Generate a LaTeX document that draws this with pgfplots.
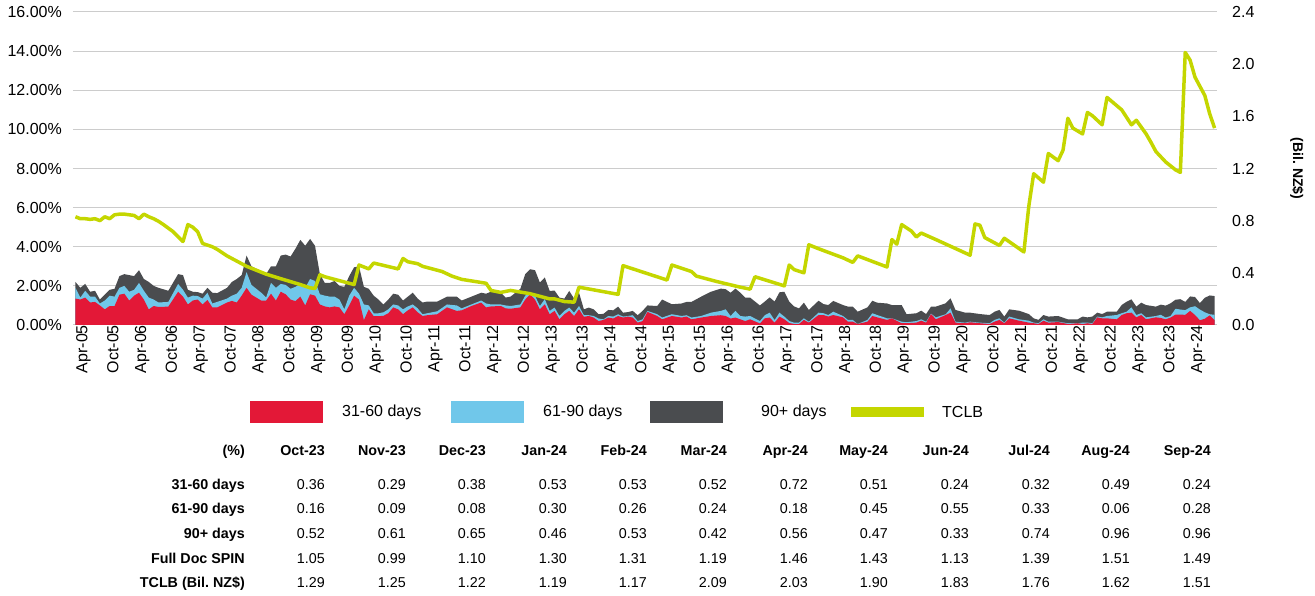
\documentclass[border=0pt]{standalone}
\usepackage{fontspec}
\setmainfont{Liberation Sans}
\usepackage{pgfplots}
\pgfplotsset{compat=1.18}
\usepackage{pgfplotstable}
\definecolor{cred}{RGB}{227,24,55}
\definecolor{cblue}{RGB}{112,199,234}
\definecolor{cgrey}{RGB}{74,76,79}
\definecolor{cgreen}{RGB}{196,214,0}
\definecolor{gridc}{RGB}{204,204,204}

\pgfplotstableread{
m r b t
0 1.35 1.90 2.20
1 1.30 1.40 1.90
2 1.40 1.75 2.10
3 1.15 1.45 1.70
4 1.18 1.45 1.75
5 1.00 1.10 1.30
6 0.80 1.25 1.55
7 0.97 1.50 1.80
8 0.97 1.45 1.85
9 1.55 1.90 2.50
10 1.60 2.00 2.60
11 1.25 1.70 2.55
12 1.50 1.80 2.50
13 1.65 2.15 2.80
14 1.30 1.75 2.35
15 0.80 1.40 2.20
16 0.97 1.30 2.00
17 0.92 1.15 1.90
19 0.94 1.18 1.75
21 1.70 2.10 2.60
22 1.45 1.80 2.55
23 1.05 1.40 1.80
24 1.25 1.50 1.70
25 1.30 1.48 1.68
26 1.05 1.35 1.60
27 1.28 1.65 1.90
28 0.90 1.10 1.65
29 0.90 1.18 1.63
31 1.15 1.35 1.90
32 1.23 1.50 2.20
33 1.15 1.60 2.35
34 1.50 1.90 2.55
35 1.90 2.70 3.55
36 1.55 2.05 3.00
38 1.25 1.65 2.75
39 1.25 1.40 2.60
40 1.60 2.15 3.00
41 1.25 1.90 3.00
42 1.70 2.10 3.55
43 1.57 2.05 3.60
44 1.30 1.85 3.50
45 1.22 1.95 3.90
46 1.45 2.10 4.35
47 1.00 1.90 4.05
48 1.57 2.35 4.40
49 1.50 2.25 4.05
50 1.05 1.57 2.60
51 0.95 1.50 2.15
52 0.90 1.45 2.15
53 0.95 1.45 2.25
54 0.90 1.30 2.00
55 0.55 0.80 1.95
56 1.00 1.50 2.50
57 1.50 1.90 2.95
58 1.30 1.60 3.00
59 0.25 1.05 1.95
60 0.80 1.00 1.85
61 0.45 0.60 1.50
62 0.45 0.60 1.30
63 0.47 0.65 1.05
64 0.60 0.80 1.30
65 0.90 1.05 1.60
66 0.80 1.00 1.55
67 0.55 0.80 1.25
68 0.75 0.95 1.45
69 0.90 1.05 1.65
70 0.65 0.85 1.35
71 0.46 0.55 1.15
72 0.50 0.60 1.20
74 0.55 0.70 1.20
76 0.90 1.05 1.45
78 0.72 1.00 1.45
79 0.75 0.85 1.25
81 0.97 1.05 1.45
83 1.15 1.25 1.65
84 0.90 1.10 1.60
85 0.95 1.05 1.70
87 0.97 1.05 1.65
88 0.85 1.00 1.40
89 0.83 0.97 1.45
91 0.90 1.05 1.85
92 1.30 1.50 2.60
93 1.57 1.65 2.85
94 1.30 1.49 2.80
95 0.80 0.97 2.17
96 1.06 1.32 2.43
97 0.55 0.72 1.74
98 0.72 0.89 1.76
99 0.29 0.46 1.40
100 0.55 0.72 1.35
101 0.72 0.89 1.74
102 0.46 0.63 1.35
103 0.80 0.97 1.65
104 0.42 0.50 0.80
105 0.46 0.50 0.89
106 0.38 0.46 0.80
107 0.20 0.33 0.55
108 0.26 0.29 0.57
109 0.38 0.46 0.77
110 0.33 0.43 0.75
111 0.46 0.55 0.94
112 0.38 0.43 0.63
113 0.43 0.46 0.66
114 0.38 0.50 0.72
115 0.12 0.20 0.50
116 0.20 0.29 0.72
117 0.67 0.72 1.00
119 0.46 0.55 0.97
120 0.29 0.38 1.30
122 0.46 0.55 1.06
124 0.38 0.46 1.10
125 0.43 0.50 1.18
126 0.29 0.38 1.18
128 0.38 0.46 1.45
130 0.46 0.63 1.70
132 0.50 0.72 1.86
133 0.46 0.80 1.83
134 0.33 0.46 1.65
135 0.38 0.72 1.86
136 0.29 0.46 1.65
137 0.20 0.43 1.40
138 0.29 0.46 1.40
140 0.08 0.20 1.00
141 0.34 0.50 1.20
142 0.38 0.63 1.41
143 0.12 0.25 1.20
144 0.43 0.63 1.67
145 0.29 0.43 1.70
146 0.10 0.20 1.20
147 0.05 0.12 0.95
148 0.05 0.12 0.85
149 0.26 0.34 1.14
150 0.12 0.17 0.77
152 0.51 0.63 1.24
153 0.51 0.60 1.07
154 0.43 0.51 1.02
155 0.51 0.68 1.23
157 0.39 0.46 1.02
158 0.17 0.26 0.94
159 0.17 0.26 0.94
160 0.05 0.05 0.68
162 0.17 0.26 0.90
163 0.46 0.60 1.24
164 0.39 0.51 1.14
166 0.26 0.34 1.10
167 0.34 0.34 1.02
169 0.09 0.17 1.02
170 0.09 0.14 0.55
172 0.12 0.20 0.60
173 0.22 0.29 0.73
174 0.12 0.17 0.56
175 0.56 0.58 0.94
176 0.29 0.39 0.94
178 0.51 0.55 1.11
179 0.63 0.85 1.36
180 0.12 0.17 0.77
182 0.09 0.12 0.63
183 0.14 0.17 0.63
185 0.09 0.12 0.56
187 0.05 0.09 0.51
188 0.17 0.26 0.68
189 0.26 0.34 0.77
190 0.09 0.12 0.43
191 0.34 0.43 0.80
193 0.22 0.29 0.73
195 0.12 0.22 0.56
196 0.09 0.12 0.34
197 0.05 0.09 0.26
198 0.22 0.29 0.51
199 0.12 0.17 0.43
201 0.15 0.17 0.46
203 0.05 0.09 0.29
205 0.09 0.09 0.29
206 0.05 0.12 0.43
207 0.09 0.12 0.39
208 0.05 0.09 0.43
209 0.39 0.43 0.63
210 0.34 0.39 0.56
211 0.34 0.46 0.68
213 0.29 0.51 0.68
214 0.51 0.60 1.02
215 0.60 0.68 1.19
216 0.63 0.90 1.31
217 0.39 0.51 0.94
218 0.51 0.60 1.14
219 0.29 0.39 1.02
221 0.39 0.46 0.94
222 0.36 0.52 1.04
223 0.29 0.38 0.99
224 0.38 0.46 1.11
225 0.53 0.83 1.29
226 0.53 0.79 1.32
227 0.52 0.76 1.18
228 0.72 0.90 1.46
229 0.51 0.96 1.43
230 0.24 0.79 1.12
231 0.32 0.65 1.39
232 0.49 0.55 1.51
233 0.24 0.52 1.48
}\arrears

\pgfplotstableread{
m v
0 0.83
1 0.815
2 0.815
3 0.81
4 0.815
5 0.80
6 0.83
7 0.815
8 0.845
9 0.85
10 0.85
11 0.845
12 0.84
13 0.815
14 0.85
15 0.83
16 0.815
17 0.795
18 0.77
20 0.715
22 0.64
23 0.77
24 0.75
25 0.715
26 0.625
28 0.60
29 0.58
31 0.53
33 0.49
35 0.45
37 0.42
39 0.39
42 0.355
46 0.31
48 0.285
49 0.28
50 0.385
51 0.37
53 0.35
57 0.31
58 0.46
60 0.43
61 0.475
66 0.43
67 0.51
68 0.485
70 0.47
71 0.45
75 0.41
77 0.375
79 0.35
84 0.32
85 0.265
87 0.25
89 0.265
93 0.24
95 0.22
97 0.20
98 0.20
100 0.18
102 0.175
103 0.29
111 0.235
112 0.455
121 0.345
122 0.46
126 0.41
127 0.375
131 0.335
136 0.29
138 0.275
139 0.37
145 0.30
146 0.46
147 0.425
149 0.40
150 0.615
152 0.585
157 0.515
159 0.48
160 0.53
166 0.445
167 0.655
168 0.62
169 0.77
171 0.72
172 0.675
173 0.705
176 0.655
183 0.535
184 0.775
185 0.765
186 0.67
189 0.61
190 0.665
194 0.56
195 0.91
196 1.16
198 1.095
199 1.315
201 1.26
202 1.34
203 1.585
204 1.51
206 1.465
207 1.63
208 1.605
210 1.535
211 1.745
214 1.65
216 1.535
217 1.57
219 1.465
220 1.40
221 1.33
222 1.29
223 1.25
224 1.22
225 1.19
226 1.17
227 2.09
228 2.03
229 1.90
230 1.83
231 1.76
232 1.62
233 1.51
}\tclb

\begin{document}
\begin{tikzpicture}[x=1pt,y=1pt]
\path[use as bounding box] (-73,-271) rectangle (1242,325);
\begin{axis}[
  at={(0,0)}, anchor=south west, scale only axis,
  width=1144pt, height=313pt,
  xmin=-0.5, xmax=233.5, ymin=0, ymax=16,
  ytick={0,2,4,6,8,10,12,14,16},
  yticklabel={\pgfmathprintnumber[fixed,fixed zerofill,precision=2]{\tick}\%},
  xtick={0,6,...,228},
  xticklabels={Apr-05,Oct-05,Apr-06,Oct-06,Apr-07,Oct-07,Apr-08,Oct-08,Apr-09,Oct-09,Apr-10,Oct-10,Apr-11,Oct-11,Apr-12,Oct-12,Apr-13,Oct-13,Apr-14,Oct-14,Apr-15,Oct-15,Apr-16,Oct-16,Apr-17,Oct-17,Apr-18,Oct-18,Apr-19,Oct-19,Apr-20,Oct-20,Apr-21,Oct-21,Apr-22,Oct-22,Apr-23,Oct-23,Apr-24},
  tick label style={font=\fontsize{16}{19}\selectfont},
  xticklabel style={rotate=90, anchor=east, inner sep=0pt, yshift=-8pt},
  yticklabel style={anchor=east, inner sep=0pt, xshift=-11pt},
  ymajorgrids, grid style={draw=gridc, line width=1pt},
  axis line style={draw=none}, major tick length=0pt,
  /pgf/number format/assume math mode=true,
]
\addplot[fill=cgrey, draw=none] table[x=m,y=t] {\arrears} \closedcycle;
\addplot[fill=cblue, draw=none] table[x=m,y=b] {\arrears} \closedcycle;
\addplot[fill=cred, draw=none] table[x=m,y=r] {\arrears} \closedcycle;
\end{axis}
\begin{axis}[
  at={(0,0)}, anchor=south west, scale only axis,
  width=1144pt, height=313pt,
  xmin=-0.5, xmax=233.5, ymin=0, ymax=2.4,
  axis x line=none, axis y line*=right,
  ytick={0,0.4,0.8,1.2,1.6,2.0,2.4},
  yticklabel={\pgfmathprintnumber[fixed,fixed zerofill,precision=1]{\tick}},
  tick label style={font=\fontsize{16}{19}\selectfont},
  yticklabel style={anchor=west, inner sep=0pt, xshift=15pt},
  axis line style={draw=none}, major tick length=0pt,
  /pgf/number format/assume math mode=true,
  ylabel={(Bil.\ NZ\$)},
  every axis y label/.style={at={(axis description cs:1.0699,0.5)}, rotate=-90, anchor=center, font=\fontsize{14}{16}\selectfont\bfseries},
]
\addplot[color=cgreen, line width=3.5pt, line join=round] table[x=m,y=v] {\tclb};
\end{axis}

% legend
\fill[cred] (177,-76) rectangle (250,-98);
\node[anchor=west, inner sep=0pt, font=\fontsize{16}{19}\selectfont] at (269,-87) {31-60 days};
\fill[cblue] (378,-76) rectangle (451,-98);
\node[anchor=west, inner sep=0pt, font=\fontsize{16}{19}\selectfont] at (470,-87) {61-90 days};
\fill[cgrey] (577,-76) rectangle (650,-98);
\node[anchor=west, inner sep=0pt, font=\fontsize{16}{19}\selectfont] at (688,-87) {90+ days};
\fill[cgreen] (778,-82) rectangle (851,-92);
\node[anchor=west, inner sep=0pt, font=\fontsize{16}{19}\selectfont] at (869,-87) {TCLB};

% data table
\begin{scope}[every node/.style={inner sep=0pt, anchor=mid east, font=\fontsize{14.3}{16}\selectfont}]
\foreach \y/\lab in {-128/(\%), -162/31-60 days, -186/61-90 days, -211/90+ days, -236/Full Doc SPIN, -260/TCLB (Bil.\ NZ\$)}
  \node[font=\fontsize{14.3}{16}\selectfont\bfseries] at (172,\y) {\lab};
\foreach \x/\h/\a/\b/\c/\d/\e in {
 252/Oct-23/0.36/0.16/0.52/1.05/1.29,
 333/Nov-23/0.29/0.09/0.61/0.99/1.25,
 413/Dec-23/0.38/0.08/0.65/1.10/1.22,
 494/Jan-24/0.53/0.30/0.46/1.30/1.19,
 574/Feb-24/0.53/0.26/0.53/1.31/1.17,
 654/Mar-24/0.52/0.24/0.42/1.19/2.09,
 735/Apr-24/0.72/0.18/0.56/1.46/2.03,
 815/May-24/0.51/0.45/0.47/1.43/1.90,
 896/Jun-24/0.24/0.55/0.33/1.13/1.83,
 977/Jul-24/0.32/0.33/0.74/1.39/1.76,
 1057/Aug-24/0.49/0.06/0.96/1.51/1.62,
 1138/Sep-24/0.24/0.28/0.96/1.49/1.51}{
  \node[font=\fontsize{14.3}{16}\selectfont\bfseries] at (\x,-128) {\h};
  \node at (\x,-162) {\a};
  \node at (\x,-186) {\b};
  \node at (\x,-211) {\c};
  \node at (\x,-236) {\d};
  \node at (\x,-260) {\e};
}
\end{scope}
\end{tikzpicture}
\end{document}
